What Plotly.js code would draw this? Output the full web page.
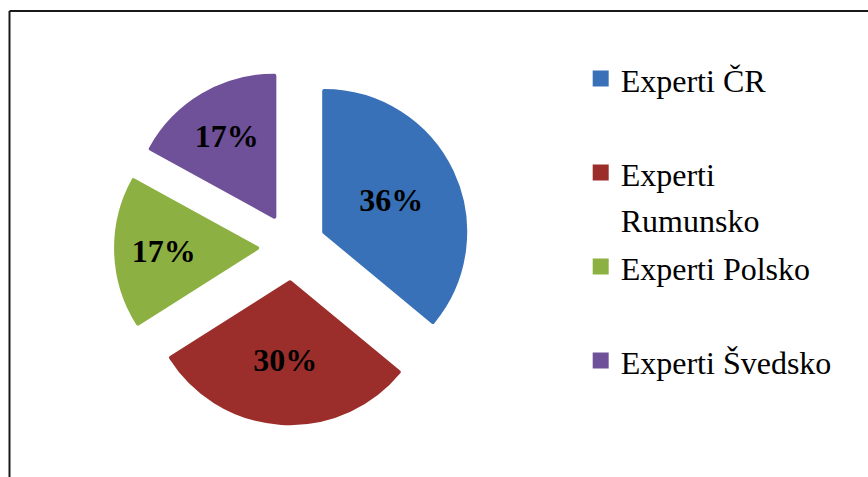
<!DOCTYPE html>
<html>
<head>
<meta charset="utf-8">
<script src="https://cdn.plot.ly/plotly-3.0.1.min.js"></script>
<style>
  html, body { margin: 0; padding: 0; background: #ffffff; }
  #chart { width: 868px; height: 477px; }
</style>
</head>
<body>
<div id="chart"></div>
<script>
// ---- data ----
var categories = ["Experti ČR", "Experti Rumunsko", "Experti Polsko", "Experti Švedsko"];
var legendLines = [["Experti ČR", " "], ["Experti", "Rumunsko"], ["Experti Polsko", " "], ["Experti Švedsko"]];
var shares = [36, 30, 17, 17];
var sliceColors = ["#3871B8", "#9B2E2B", "#8DB043", "#6F5199"];

// legend entries built from the names (padding lines keep the spacing of the original)
var legendLabels = legendLines.map(function (lines) {
  return lines.map(function (t) { return '<span style="font-size:32px">' + t + '</span>'; }).join('<br>');
});

var trace = {
  type: 'pie',
  labels: legendLabels,
  values: shares,
  sort: false,
  direction: 'clockwise',
  rotation: 0,
  pull: shares.map(function () { return 0.25; }),
  marker: { colors: sliceColors, line: { color: sliceColors, width: 4 } },
  textinfo: 'percent',
  textposition: 'inside',
  insidetextorientation: 'horizontal',
  textfont: { family: 'Liberation Serif', size: 32, color: '#000000', weight: 'bold' },
  hoverinfo: 'skip',
  domain: { x: [0.1337, 0.5398], y: [0.1127, 0.8517] }
};

var layout = {
  width: 868,
  height: 477,
  margin: { l: 0, r: 0, t: 0, b: 0 },
  paper_bgcolor: '#ffffff',
  plot_bgcolor: '#ffffff',
  showlegend: true,
  legend: {
    x: 0.669, xanchor: 'left',
    y: 0.897, yanchor: 'top',
    valign: 'top',
    font: { family: 'Liberation Serif', size: 35, color: '#000000' },
    bgcolor: 'rgba(0,0,0,0)'
  },
  shapes: [
    { type: 'line', xref: 'paper', yref: 'paper', x0: 0.01094, x1: 1.0, y0: 0.9769, y1: 0.9769,
      line: { color: '#1a1a1a', width: 2 } },
    { type: 'line', xref: 'paper', yref: 'paper', x0: 0.01094, x1: 0.01094, y0: 0.9769, y1: 0,
      line: { color: '#1a1a1a', width: 2 } }
  ]
};

Plotly.newPlot('chart', [trace], layout, { displayModeBar: false, staticPlot: true });
</script>
</body>
</html>
